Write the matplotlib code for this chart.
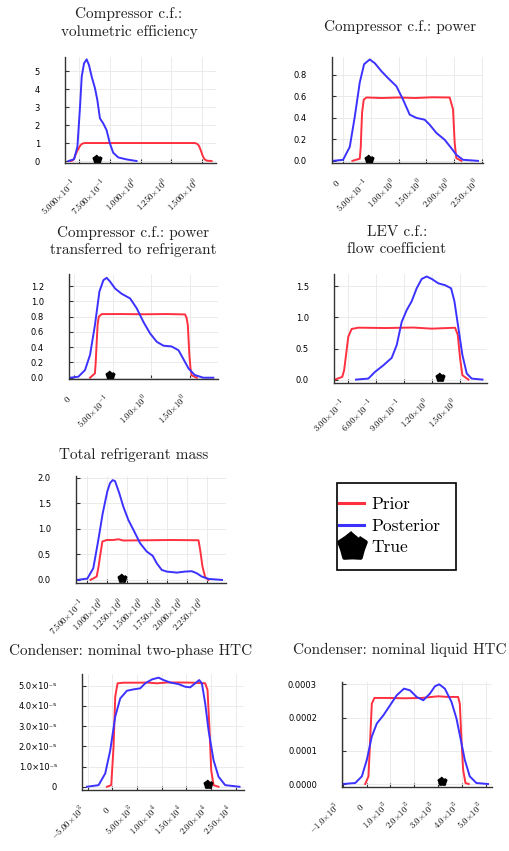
import numpy as np
import matplotlib.pyplot as plt
from matplotlib.path import Path
from matplotlib.lines import Line2D
from matplotlib.patches import Rectangle
from matplotlib.transforms import ScaledTranslation

plt.rcParams['mathtext.fontset'] = 'cm'

W, H = 509, 851
RED = '#ff3040'
BLUE = '#3c32ff'

# ---- panel 1: compressor volumetric efficiency
p1_prior_x = [0.432, 0.445, 0.458, 0.475, 0.49, 0.51, 0.525, 0.545, 0.8, 1.0, 1.2, 1.44, 1.46, 1.475, 1.49, 1.505, 1.52, 1.54, 1.578]
p1_prior_y = [0.0, 0.02, 0.1, 0.4, 0.62, 0.86, 0.96, 1.0, 1.0, 1.0, 1.0, 1.0, 0.96, 0.85, 0.6, 0.3, 0.1, 0.02, 0.0]
p1_post_x = [0.414, 0.46, 0.487, 0.508, 0.522, 0.541, 0.562, 0.581, 0.603, 0.63, 0.649, 0.67, 0.697, 0.724, 0.751, 0.778, 0.819, 0.886, 0.968]
p1_post_y = [0.0, 0.1, 0.8, 3.0, 4.7, 5.43, 5.65, 5.33, 4.69, 4.04, 3.39, 2.37, 2.09, 1.72, 0.98, 0.46, 0.2, 0.09, 0.0]
p1_true = (0.649, 0.1)
p1_xticks = [0.5, 0.75, 1.0, 1.25, 1.5]
p1_xlabels = [r'$5.000{\times}10^{-1}$', r'$7.500{\times}10^{-1}$', r'$1.000{\times}10^{0}$',
              r'$1.250{\times}10^{0}$', r'$1.500{\times}10^{0}$']
p1_yticks = [0, 1, 2, 3, 4, 5]
p1_ylabels = ['0', '1', '2', '3', '4', '5']

# ---- panel 2: compressor power
p2_prior_x = [0.168, 0.30, 0.318, 0.33, 0.342, 0.372, 0.42, 0.7, 1.0, 1.3, 1.6, 1.92, 1.98, 2.01, 2.04, 2.13]
p2_prior_y = [0.0, 0.02, 0.13, 0.3, 0.45, 0.57, 0.59, 0.585, 0.59, 0.585, 0.592, 0.59, 0.48, 0.165, 0.025, 0.0]
p2_post_x = [-0.18, 0.0, 0.12, 0.21, 0.30, 0.378, 0.48, 0.57, 0.69, 0.81, 0.96, 1.08, 1.2, 1.32, 1.47, 1.56, 1.68, 1.83, 1.95, 2.04, 2.16, 2.43]
p2_post_y = [0.0, 0.01, 0.13, 0.41, 0.73, 0.9, 0.944, 0.91, 0.835, 0.77, 0.695, 0.57, 0.43, 0.4, 0.383, 0.336, 0.26, 0.196, 0.118, 0.056, 0.01, 0.0]
p2_true = (0.46, 0.02)
p2_xticks = [0, 0.5, 1.0, 1.5, 2.0, 2.5]
p2_xlabels = [r'$0$', r'$5.00{\times}10^{-1}$', r'$1.00{\times}10^{0}$', r'$1.50{\times}10^{0}$',
              r'$2.00{\times}10^{0}$', r'$2.50{\times}10^{0}$']
p2_yticks = [0.0, 0.2, 0.4, 0.6, 0.8]
p2_ylabels = ['0.0', '0.2', '0.4', '0.6', '0.8']

# ---- panel 3: compressor power transferred to refrigerant
p3_prior_x = [0.207, 0.27, 0.28, 0.293, 0.305, 0.32, 0.358, 0.6, 0.9, 1.2, 1.435, 1.455, 1.47, 1.49, 1.505, 1.52, 1.586]
p3_prior_y = [0.0, 0.057, 0.2, 0.47, 0.7, 0.8, 0.834, 0.835, 0.832, 0.835, 0.83, 0.78, 0.69, 0.3, 0.12, 0.03, 0.0]
p3_post_x = [-0.05, 0.056, 0.142, 0.207, 0.27, 0.328, 0.38, 0.422, 0.466, 0.53, 0.616, 0.724, 0.81, 0.897, 0.983, 1.07, 1.155, 1.26, 1.35, 1.41, 1.48, 1.56, 1.67, 1.8]
p3_post_y = [0.0, 0.013, 0.1, 0.3, 0.69, 1.13, 1.28, 1.31, 1.26, 1.17, 1.1, 1.04, 0.91, 0.73, 0.58, 0.47, 0.42, 0.41, 0.36, 0.25, 0.12, 0.035, 0.0, 0.0]
p3_true = (0.466, 0.035)
p3_xticks = [0, 0.5, 1.0, 1.5]
p3_xlabels = [r'$0$', r'$5.00{\times}10^{-1}$', r'$1.00{\times}10^{0}$', r'$1.50{\times}10^{0}$']
p3_yticks = [0.0, 0.2, 0.4, 0.6, 0.8, 1.0, 1.2]
p3_ylabels = ['0.0', '0.2', '0.4', '0.6', '0.8', '1.0', '1.2']

# ---- panel 4: LEV flow coefficient
p4_prior_x = [0.156, 0.235, 0.255, 0.271, 0.3, 0.336, 0.408, 0.7, 1.0, 1.2, 1.451, 1.48, 1.505, 1.53, 1.595]
p4_prior_y = [0.0, 0.043, 0.15, 0.34, 0.69, 0.815, 0.836, 0.83, 0.838, 0.82, 0.835, 0.72, 0.34, 0.07, 0.0]
p4_post_x = [0.383, 0.516, 0.588, 0.678, 0.768, 0.822, 0.876, 0.93, 0.983, 1.037, 1.091, 1.145, 1.2, 1.27, 1.343, 1.408, 1.444, 1.487, 1.53, 1.577, 1.63, 1.746]
p4_post_y = [0.0, 0.016, 0.124, 0.23, 0.35, 0.556, 0.93, 1.12, 1.26, 1.47, 1.62, 1.66, 1.62, 1.55, 1.52, 1.47, 1.26, 0.826, 0.394, 0.097, 0.016, 0.0]
p4_true = (1.289, 0.04)
p4_xticks = [0.3, 0.6, 0.9, 1.2, 1.5]
p4_xlabels = [r'$3.00{\times}10^{-1}$', r'$6.00{\times}10^{-1}$', r'$9.00{\times}10^{-1}$',
              r'$1.20{\times}10^{0}$', r'$1.50{\times}10^{0}$']
p4_yticks = [0.0, 0.5, 1.0, 1.5]
p4_ylabels = ['0.0', '0.5', '1.0', '1.5']

# ---- panel 5: total refrigerant mass
p5_prior_x = [0.79, 0.867, 0.89, 0.909, 0.939, 0.993, 1.077, 1.14, 1.2, 1.5, 1.8, 2.145, 2.166, 2.195, 2.229, 2.27]
p5_prior_y = [0.0, 0.065, 0.25, 0.456, 0.75, 0.78, 0.78, 0.795, 0.77, 0.775, 0.78, 0.775, 0.586, 0.26, 0.052, 0.0]
p5_post_x = [0.624, 0.75, 0.825, 0.888, 0.943, 1.001, 1.035, 1.068, 1.098, 1.152, 1.202, 1.265, 1.328, 1.412, 1.496, 1.571, 1.621, 1.684, 1.747, 1.873, 1.977, 2.061, 2.124, 2.187, 2.27, 2.44]
p5_post_y = [0.0, 0.026, 0.228, 0.78, 1.3, 1.73, 1.89, 1.95, 1.93, 1.69, 1.43, 1.17, 0.98, 0.717, 0.554, 0.47, 0.326, 0.195, 0.163, 0.143, 0.163, 0.17, 0.13, 0.065, 0.02, 0.0]
p5_true = (1.19, 0.045)
p5_xticks = [0.75, 1.0, 1.25, 1.5, 1.75, 2.0, 2.25]
p5_xlabels = [r'$7.500{\times}10^{-1}$', r'$1.000{\times}10^{0}$', r'$1.250{\times}10^{0}$', r'$1.500{\times}10^{0}$',
              r'$1.750{\times}10^{0}$', r'$2.000{\times}10^{0}$', r'$2.250{\times}10^{0}$']
p5_yticks = [0.0, 0.5, 1.0, 1.5, 2.0]
p5_ylabels = ['0.0', '0.5', '1.0', '1.5', '2.0']

# ---- panel 6: condenser nominal two-phase HTC
p6_prior_x = [-1081, -203, 270, 608, 1081, 2297, 5676, 7027, 9054, 11081, 13784, 16486, 18851, 19324, 19730, 20068, 20541, 21554]
p6_prior_y = [0.0, 0.08e-5, 1.98e-5, 4.46e-5, 5.12e-5, 5.15e-5, 5.15e-5, 5.16e-5, 5.12e-5, 5.16e-5, 5.16e-5, 5.15e-5, 5.12e-5, 4.79e-5, 2.8e-5, 0.83e-5, 0.08e-5, 0.0]
p6_post_x = [-5135, -2770, -1419, -405, 608, 1622, 2973, 4324, 5676, 6689, 8041, 9392, 10405, 11757, 13446, 14797, 15811, 16824, 17635, 18176, 18851, 19527, 20541, 21554, 22905, 25811]
p6_post_y = [0.0, 0.08e-5, 0.66e-5, 1.8e-5, 3.47e-5, 4.37e-5, 4.75e-5, 4.82e-5, 4.87e-5, 5.12e-5, 5.31e-5, 5.4e-5, 5.28e-5, 5.16e-5, 5.08e-5, 4.95e-5, 4.92e-5, 5.12e-5, 5.28e-5, 5.12e-5, 4.13e-5, 2.8e-5, 1.32e-5, 0.5e-5, 0.08e-5, 0.0]
p6_true = (19324, 0.12e-5)
p6_xticks = [-5000, 0, 5000, 10000, 15000, 20000, 25000]
p6_xlabels = [r'$-5.00{\times}10^{3}$', r'$0$', r'$5.00{\times}10^{3}$', r'$1.00{\times}10^{4}$',
              r'$1.50{\times}10^{4}$', r'$2.00{\times}10^{4}$', r'$2.50{\times}10^{4}$']
p6_yticks = [0.0, 1e-5, 2e-5, 3e-5, 4e-5, 5e-5]
p6_ylabels = ['0', '1.0×10⁻⁵', '2.0×10⁻⁵', '3.0×10⁻⁵', '4.0×10⁻⁵', '5.0×10⁻⁵']

# ---- panel 7: condenser nominal liquid HTC
p7_prior_x = [-56, 83, 153, 222, 333, 917, 1611, 2306, 3000, 3417, 3833, 3903, 3972, 4042, 4139, 4278]
p7_prior_y = [0.0, 0.23e-4, 1.33e-4, 2.42e-4, 2.59e-4, 2.59e-4, 2.58e-4, 2.59e-4, 2.64e-4, 2.62e-4, 2.62e-4, 2.42e-4, 1.33e-4, 0.43e-4, 0.03e-4, 0.0]
p7_post_x = [-1000, -472, -194, 14, 222, 431, 708, 986, 1264, 1569, 1819, 2097, 2375, 2653, 2861, 3042, 3278, 3556, 3764, 3944, 4111, 4319, 4597, 5083]
p7_post_y = [0.0, 0.03e-4, 0.23e-4, 0.73e-4, 1.43e-4, 1.82e-4, 2.07e-4, 2.37e-4, 2.67e-4, 2.87e-4, 2.82e-4, 2.62e-4, 2.52e-4, 2.72e-4, 2.94e-4, 3.0e-4, 2.87e-4, 2.47e-4, 1.97e-4, 1.33e-4, 0.73e-4, 0.23e-4, 0.03e-4, 0.0]
p7_true = (3139, 0.08e-4)
p7_xticks = [-1000, 0, 1000, 2000, 3000, 4000, 5000]
p7_xlabels = [r'$-1.0{\times}10^{3}$', r'$0$', r'$1.0{\times}10^{3}$', r'$2.0{\times}10^{3}$',
              r'$3.0{\times}10^{3}$', r'$4.0{\times}10^{3}$', r'$5.0{\times}10^{3}$']
p7_yticks = [0.0, 1e-4, 2e-4, 3e-4]
p7_ylabels = ['0.0000', '0.0001', '0.0002', '0.0003']

titles = ['Compressor c.f.:\nvolumetric efficiency', 'Compressor c.f.: power',
          'Compressor c.f.: power\ntransferred to refrigerant', 'LEV c.f.:\nflow coefficient',
          'Total refrigerant mass', 'Condenser: nominal two-phase HTC', 'Condenser: nominal liquid HTC']

# star marker with fat arms (looks like the Plots.jl one)
ang = np.pi / 2 + np.arange(10) * np.pi / 5
rad = np.where(np.arange(10) % 2 == 0, 1.0, 0.78)
star = Path(np.column_stack([rad * np.cos(ang), rad * np.sin(ang)]))

fig = plt.figure(figsize=(W / 100, H / 100), dpi=100)
shift_left = ScaledTranslation(-0.04, 0, fig.dpi_scale_trans)


def panel(box, xlim, ylim, title, tpos, px, py, qx, qy, tru, xt, xl, yt, yl):
    l, r, t, b = box
    ax = fig.add_axes([l / W, 1 - b / H, (r - l) / W, (b - t) / H])
    ax.plot(px, py, color=RED, lw=1.4)
    ax.plot(qx, qy, color=BLUE, lw=1.4)
    ax.plot([tru[0]], [tru[1]], ls='none', marker=star, ms=6, color='black',
            mec='black', mew=1.5, solid_joinstyle='round')
    ax.set_xlim(xlim)
    ax.set_ylim(ylim)
    ax.set_xticks(xt)
    ax.set_xticklabels(xl, rotation=45, ha='right', va='center', rotation_mode='anchor', fontsize=6.3)
    ax.set_yticks(yt)
    ax.set_yticklabels(yl, fontsize=6)
    ax.tick_params(direction='in', length=3, width=0.8, color='#333333')
    ax.tick_params(axis='x', pad=13)
    ax.tick_params(axis='y', pad=18)
    for lab in ax.get_xticklabels():
        lab.set_transform(lab.get_transform() + shift_left)
    for s in ['top', 'right']:
        ax.spines[s].set_visible(False)
    for s in ['left', 'bottom']:
        ax.spines[s].set_color('#333333')
        ax.spines[s].set_linewidth(1.0)
    ax.grid(True, color='#e8e8e8', lw=0.6)
    ax.set_axisbelow(True)
    fig.text(tpos[0] / W, 1 - tpos[1] / H, title, ha='center', va='center',
             family='cmr10', fontsize=11, linespacing=1.3, color='#222222')
    return ax


panel((65, 216, 57, 163), (0.386, 1.614), (-0.11, 5.78), titles[0], (129, 23),
      p1_prior_x, p1_prior_y, p1_post_x, p1_post_y, p1_true, p1_xticks, p1_xlabels, p1_yticks, p1_ylabels)
panel((332, 483, 57, 163), (-0.2, 2.52), (-0.02, 0.967), titles[1], (400, 27),
      p2_prior_x, p2_prior_y, p2_post_x, p2_post_y, p2_true, p2_xticks, p2_xlabels, p2_yticks, p2_ylabels)
panel((69, 218, 274, 379), (-0.065, 1.86), (-0.017, 1.36), titles[2], (133, 241.5),
      p3_prior_x, p3_prior_y, p3_post_x, p3_post_y, p3_true, p3_xticks, p3_xlabels, p3_yticks, p3_ylabels)
panel((334, 487, 274, 383), (0.146, 1.795), (-0.055, 1.70), titles[3], (397, 241),
      p4_prior_x, p4_prior_y, p4_post_x, p4_post_y, p4_true, p4_xticks, p4_xlabels, p4_yticks, p4_ylabels)
panel((76, 226, 476, 583), (0.608, 2.49), (-0.06, 2.03), titles[4], (134, 455),
      p5_prior_x, p5_prior_y, p5_post_x, p5_post_y, p5_true, p5_xticks, p5_xlabels, p5_yticks, p5_ylabels)
panel((82, 244, 674, 790), (-6130, 26720), (-0.16e-5, 5.58e-5), titles[5], (131, 651),
      p6_prior_x, p6_prior_y, p6_post_x, p6_post_y, p6_true, p6_xticks, p6_xlabels, p6_yticks, p6_ylabels)
panel((342, 492, 682, 787), (-1025, 5250), (-0.09e-4, 3.07e-4), titles[6], (400, 650),
      p7_prior_x, p7_prior_y, p7_post_x, p7_post_y, p7_true, p7_xticks, p7_xlabels, p7_yticks, p7_ylabels)

# legend box drawn by hand, entries placed inside it
fig.add_artist(Rectangle((337 / W, 1 - 570 / H), 119 / W, 87 / H, transform=fig.transFigure,
                         fill=False, ec='black', lw=1.2))
handles = [Line2D([], [], color=RED, lw=2.2),
           Line2D([], [], color=BLUE, lw=2.2),
           Line2D([], [], ls='none', marker=star, ms=20, color='black', mew=3, solid_joinstyle='round')]
fig.legend(handles, ['Prior', 'Posterior', 'True'], loc='upper left',
           bbox_to_anchor=(339 / W, 1 - 497 / H), frameon=False,
           prop={'family': 'cmr10', 'size': 12.5}, borderaxespad=0,
           borderpad=0, labelspacing=0.36, handlelength=1.45, handletextpad=0.4)

fig.savefig('out.png', dpi=100)
